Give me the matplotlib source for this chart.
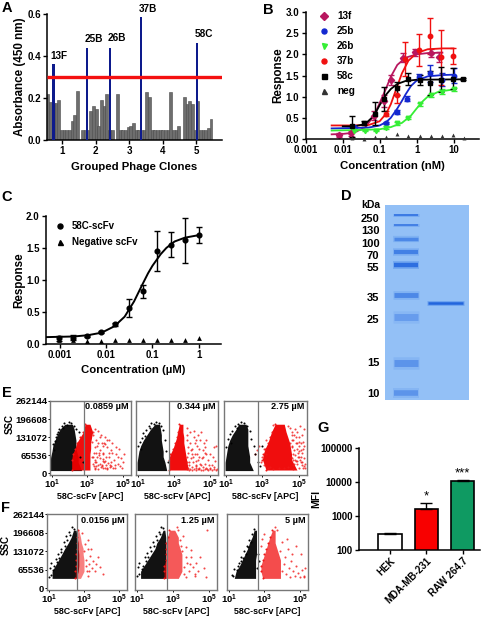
import numpy as np
import matplotlib
matplotlib.use('Agg')
import matplotlib.pyplot as plt
from matplotlib.lines import Line2D

plt.rcParams['font.family'] = ['Liberation Sans', 'DejaVu Sans']
plt.rcParams['font.weight'] = 'bold'
plt.rcParams['axes.labelweight'] = 'bold'
plt.rcParams['mathtext.fontset'] = 'custom'
plt.rcParams['mathtext.bf'] = 'Liberation Sans:bold'
plt.rcParams['mathtext.rm'] = 'Liberation Sans:bold'

W, H = 482, 621

# A - phage clones
clone_values = [.22, .18, .175, .175, .19, .05, .05, .05, .05, .09, .12, .235, 0, .05, .05, .05,
                .14, .16, .15, .065, .19, .16, .22, .05, .05, 0, .22, .05, .05, .05, .06, .065,
                .08, .05, .05, .05, .05, .23, .205, .05, .05, .05, .05, .05, .05, .05, .23, .05,
                .05, .065, 0, .205, .17, .185, .17, .05, .185, .05, .05, .05, .055, .1]
hit_names = ['13F', '25B', '26B', '37B', '58C']
hit_pos = [0.73, 1.73, 2.43, 3.36, 5.04]
hit_values = [0.36, 0.44, 0.44, 0.585, 0.46]
hit_label_x = [0.91, 1.93, 2.62, 3.56, 5.23]
hit_label_y = [0.40, 0.48, 0.485, 0.625, 0.503]
cutoff = 0.3

# B - binding curves, curve points
b_names = ['13f', '25b', '26b', '37b', '58c', 'neg']
b_colors = ['#b8175f', '#1428d0', '#35ee35', '#f01010', '#000000', '#333333']
b_markers = ['D', 'o', 'v', 'o', 's', '^']
c13_x = [.005, .01, .02, .04, .07, .1, .15, .2, .3, .5, 1, 2, 5]
c13_y = [.11, .12, .15, .27, .55, .85, 1.2, 1.47, 1.75, 1.92, 2.0, 2.03, 2.04]
c25_x = [.005, .02, .05, .1, .15, .2, .3, .4, .5, .7, 1, 2, 5, 10]
c25_y = [.25, .26, .27, .32, .4, .5, .72, .9, 1.05, 1.25, 1.38, 1.48, 1.51, 1.52]
c26_x = [.005, .02, .05, .1, .2, .4, .7, 1, 1.5, 2, 4, 10]
c26_y = [.2, .21, .22, .23, .28, .38, .55, .72, .9, 1.0, 1.12, 1.17]
c37_x = [.005, .02, .05, .1, .15, .2, .3, .4, .6, 1, 2, 5, 10]
c37_y = [.32, .32, .33, .42, .6, .82, 1.25, 1.55, 1.85, 2.03, 2.12, 2.14, 2.14]
c58_x = [.01, .02, .04, .07, .1, .15, .2, .3, .5, 1, 20]
c58_y = [.3, .3, .35, .55, .8, 1.05, 1.18, 1.3, 1.37, 1.4, 1.41]
p13_x = [.0077, .017, .07, .13, .2, .42, .9, 2.4, 4]
p13_y = [.09, .13, .55, .9, 1.4, 1.92, 2.05, 2.03, 1.93]
p13_e = [.04, .05, .1, .15, .12, .1, .08, .1, .12]
p25_x = [.02, .15, .3, .55, 1.15, 2.3, 5, 10]
p25_y = [.28, .38, .63, .95, 1.46, 1.55, 1.4, 1.5]
p25_e = [.03, .03, .05, .06, .07, .2, .15, .18]
p26_x = [.02, .04, .08, .15, .3, .6, 1.2, 2.4, 4.8, 10]
p26_y = [.2, .2, .2, .27, .37, .5, .82, 1.03, 1.12, 1.17]
p26_e = [.02, .02, .02, .03, .03, .03, .03, .04, .05, .04]
p37_x = [.15, .3, .5, 1.15, 2.3, 4.6, 9.5]
p37_y = [.6, 1.05, 1.9, 2.1, 2.43, 1.93, 1.96]
p37_e = [.05, .2, .4, .38, .42, .65, .2]
p58_x = [.018, .037, .075, .13, .29, .6, 1.2, 2.3, 4.6, 9.5, 18]
p58_y = [.3, .38, .6, .95, 1.2, 1.42, 1.4, 1.33, 1.4, 1.42, 1.42]
p58_e = [.25, .05, .27, .28, .15, .15, .12, .28, .3, .25, .02]
pneg_x = [.018, .037, .075, .15, .3, .6, 1.2, 2.4, 4.8, 9.6, 19]
pneg_y = [.02, .01, .05, .04, .12, .06, .08, .08, .06, .1, .02]

# C
c_conc = [1, .5, .25, .125, .0625, .03125, .0156, .0078, .0039, .00195, .00098]
c_resp = [1.7, 1.62, 1.55, 1.45, .82, .56, .30, .18, .12, .09, .08]
c_err = [.13, .35, .2, .32, .1, .14, .02, .02, .02, .04, .04]
c_neg = [.09, .05, .05, .05, .05, .06, .05, .04, .04, .05, .05]
cfit_x = [.0005, .001, .002, .004, .008, .015, .025, .04, .06, .08, .1, .15, .2, .3, .5, 1]
cfit_y = [.1, .105, .11, .13, .17, .27, .42, .66, .92, 1.1, 1.22, 1.4, 1.5, 1.6, 1.66, 1.7]

# D - gel
ladder_labels = ['250', '130', '100', '70', '55', '35', '25', '15', '10']
ladder_label_y = [13, 25, 38, 50, 62, 92, 114, 157, 188]
ladder_band_y = [10, 20, 34, 47, 60, 90, 112, 158, 188]
ladder_band_w = [1.2, 1.2, 2.5, 3, 3.2, 3.5, 5, 5, 4]
ladder_band_a = [.9, .8, .6, .7, .95, .6, .35, .45, .45]

# E and F - flow cytometry, cloud width per SSC level (log10 APC), dots read by eye
ssc_ticks = [0, 65.536, 131.072, 196.608, 262.144]
ssc_labels = ['0', '65536', '131072', '196608', '262144']
e_rows_black = [10, 40, 60, 80, 100, 120, 140, 160, 178]
e_rows_red = [12, 50, 70, 90, 110, 130, 150, 178]
f_rows = [35, 60, 80, 100, 120, 140, 160, 180, 205]

e1_black_l = [.89, .89, .93, 1.0, 1.05, 1.17, 1.3, 1.45, 1.73]
e1_black_r = [2.67, 2.48, 2.48, 2.39, 2.35, 2.35, 2.3, 2.25, 2.15]
e1_red_l = [2.11, 2.11, 2.16, 2.3, 2.39, 2.58, 2.77, 2.86]
e1_red_r = [3.14, 3.14, 3.14, 3.18, 3.18, 3.23, 3.29, 3.14]
e1_dots_x = [3.3, 3.4, 3.5, 3.55, 3.6, 3.7, 3.8, 3.85, 3.9, 4.0, 4.05, 4.1, 4.2, 4.3, 4.35, 4.4, 4.5, 4.6, 4.7, 4.8,
             4.9, 3.35, 3.45, 3.6, 3.75, 3.9, 4.1, 4.25, 4.45, 3.3, 3.5, 3.7, 4.0, 4.3, 4.6, 3.4, 3.65, 3.95, 4.2, 4.55,
             3.25, 3.3, 3.35, 3.4, 3.45, 3.5, 3.55, 3.6, 3.65, 3.7, 3.75, 3.8, 3.85, 3.9, 3.95, 4.0, 4.05, 4.1, 4.15, 4.2,
             3.25, 3.3, 3.4, 3.5, 3.6, 3.7, 3.8, 3.9, 4.0, 4.1, 4.25, 4.4, 4.55, 4.7, 4.85, 5.0, 4.95, 5.05]
e1_dots_y = [140, 95, 120, 60, 155, 85, 110, 45, 70, 130, 30, 95, 60, 85, 25, 110, 50, 70, 35, 90,
             55, 25, 20, 30, 22, 18, 20, 24, 18, 60, 40, 130, 105, 40, 95, 160, 75, 40, 120, 30,
             115, 35, 75, 15, 50, 28, 100, 14, 65, 35, 140, 28, 75, 52, 110, 18, 60, 120, 38, 75,
             60, 150, 42, 75, 110, 55, 30, 100, 45, 15, 32, 75, 20, 58, 28, 40, 18, 70]
e1_black_dx = [1.35, 1.25, 1.15, 1.42, 1.55, 1.7, 1.6, 1.85, 1.95, 2.1, 2.25, 2.35, 2.5, 2.6, 2.72, 1.05, 1.12, 1.3]
e1_black_dy = [150, 132, 118, 160, 172, 182, 165, 176, 186, 183, 172, 160, 150, 60, 40, 105, 85, 142]

e2_black_l = [.95, .95, 1.0, 1.05, 1.15, 1.3, 1.5, 1.7, 1.95]
e2_black_r = [2.6, 2.5, 2.4, 2.4, 2.35, 2.3, 2.3, 2.25, 2.2]
e2_red_l = [2.7, 2.7, 2.8, 2.95, 3.05, 3.15, 3.2, 3.3]
e2_red_r = [3.8, 3.7, 3.65, 3.6, 3.55, 3.55, 3.5, 3.5]
e2_dots_x = [3.7, 3.8, 3.9, 4.0, 4.1, 4.2, 4.3, 4.4, 4.5, 4.6, 4.7, 4.8, 4.9, 5.0, 5.1, 5.2, 5.3, 3.75, 3.95, 4.15, 4.35,
             4.55, 4.75, 4.95, 5.15, 5.35, 3.85, 4.05, 4.25, 4.45, 4.65, 3.8, 4.0, 4.2, 4.4, 4.6, 4.8, 5.0, 5.2, 3.7,
             3.7, 3.75, 3.8, 3.85, 3.9, 3.95, 4.0, 4.05, 4.1, 4.15, 4.2, 4.25, 4.3, 4.35, 4.4, 4.45, 4.5, 4.6, 4.7, 4.8,
             3.72, 3.82, 3.92, 4.02, 4.12, 4.22, 4.32, 4.42, 4.52, 4.62, 4.72, 4.82, 4.92, 5.02, 5.12, 5.22, 5.32, 5.38]
e2_dots_y = [120, 95, 150, 70, 130, 45, 100, 60, 150, 85, 35, 120, 50, 70, 30, 95, 45, 165, 85, 110, 140,
             55, 75, 30, 60, 100, 40, 60, 25, 35, 110, 20, 22, 18, 20, 24, 18, 20, 22, 60,
             40, 140, 75, 30, 110, 55, 90, 40, 155, 70, 120, 30, 70, 50, 90, 120, 30, 60, 95, 70,
             14, 12, 16, 13, 15, 12, 14, 16, 13, 12, 15, 14, 12, 16, 13, 15, 12, 14]
e2_black_dx = [1.3, 1.2, 1.1, 1.45, 1.6, 1.75, 1.65, 1.9, 2.0, 2.15, 2.3, 2.4, 2.5, 2.55, 2.65, 1.0, 1.15, 1.4]
e2_black_dy = [145, 128, 112, 158, 170, 182, 165, 178, 187, 183, 172, 158, 120, 80, 40, 100, 88, 135]

e3_black_l = [.95, .95, 1.0, 1.05, 1.1, 1.2, 1.35, 1.55, 1.7]
e3_black_r = [2.5, 2.3, 2.3, 2.25, 2.2, 2.2, 2.2, 2.2, 2.1]
e3_red_l = [3.2, 3.0, 3.05, 3.15, 3.3, 3.4, 3.5, 3.7]
e3_red_r = [4.9, 4.6, 4.6, 4.55, 4.5, 4.4, 4.3, 4.2]
e3_dots_x = [4.6, 4.7, 4.8, 4.9, 5.0, 5.1, 5.2, 5.3, 5.0, 5.2, 4.8, 5.1, 5.3, 4.7, 4.9, 5.2, 3.3, 3.4, 3.6, 3.9,
             4.2, 4.4, 4.7, 5.0, 5.25, 2.7, 2.6, 2.8, 4.5, 4.6, 4.9, 5.1, 5.3, 3.2, 3.1, 3.6, 4.4, 4.7, 5.0, 5.3,
             4.65, 4.75, 4.85, 4.95, 5.05, 5.15, 5.25, 5.35, 4.62, 4.72, 4.82, 4.92, 5.02, 5.12, 5.22, 5.32, 2.9, 3.0, 3.1, 3.2,
             4.5, 4.55, 4.6, 4.65, 4.7, 4.75, 4.8, 4.85, 4.9, 4.95, 5.0, 5.05]
e3_dots_y = [150, 120, 160, 90, 130, 110, 75, 160, 60, 140, 50, 40, 100, 70, 110, 30, 18, 22, 16, 20,
             18, 22, 16, 20, 18, 85, 70, 100, 165, 140, 35, 85, 55, 120, 90, 175, 170, 30, 80, 25,
             100, 35, 130, 60, 170, 40, 115, 35, 55, 85, 110, 45, 100, 60, 90, 20, 40, 60, 30, 70,
             110, 60, 95, 120, 50, 140, 65, 45, 150, 75, 115, 50]
e3_black_dx = [1.2, 1.1, 1.35, 1.5, 1.65, 1.6, 1.85, 2.0, 2.15, 2.3, 2.4, 2.55, 2.6, 2.75, 2.85, 3.0, 1.0, 1.25]
e3_black_dy = [142, 125, 155, 170, 180, 165, 187, 182, 172, 155, 125, 100, 70, 40, 25, 100, 95, 110]

f1_black_l = [1.18, 1.18, 1.36, 1.55, 1.73, 1.9, 2.1, 2.27, 2.4]
f1_black_r = [2.55, 2.67, 2.7, 2.7, 2.7, 2.67, 2.67, 2.6, 2.55]
f1_red_l = [2.5, 2.5, 2.55, 2.55, 2.55, 2.6, 2.6, 2.6, 2.65]
f1_red_r = [2.8, 3.0, 3.0, 3.0, 2.95, 2.95, 2.85, 2.8, 2.7]
f1_dots_x = [3.0, 3.1, 3.15, 3.2, 3.3, 3.35, 3.45, 3.5, 3.6, 3.7, 3.8, 3.9, 4.1, 3.05, 3.25, 3.4, 3.1, 3.2, 2.9, 3.3]
f1_dots_y = [130, 100, 60, 140, 85, 115, 70, 95, 60, 85, 110, 75, 50, 155, 45, 140, 80, 170, 195, 60]
f1_black_dx = [1.0, 1.1, 1.05, 1.25, 1.4, 1.3, 1.5, 1.45, 1.7, 1.55, 1.85, 1.7, 2.0, 1.9, 2.15, 2.05, 2.3, 2.2, 2.45, 1.12]
f1_black_dy = [40, 48, 72, 65, 105, 78, 120, 92, 140, 108, 165, 128, 185, 148, 200, 170, 215, 188, 210, 88]

f2_black_l = [1.2, 1.2, 1.4, 1.6, 1.8, 2.0, 2.1, 2.3, 2.45]
f2_black_r = [2.6, 2.6, 2.6, 2.6, 2.6, 2.6, 2.6, 2.6, 2.55]
f2_red_l = [2.5, 2.5, 2.5, 2.6, 2.6, 2.6, 2.6, 2.7, 2.8]
f2_red_r = [3.3, 3.5, 3.5, 3.5, 3.5, 3.4, 3.3, 3.3, 3.1]
f2_dots_x = [3.5, 3.6, 3.7, 3.8, 3.9, 4.0, 4.1, 4.2, 4.3, 4.4, 4.5, 4.7, 4.9, 3.6, 3.75, 4.0, 4.25, 3.4, 3.55, 4.85,
             3.3, 3.2, 3.45, 3.7, 3.95]
f2_dots_y = [130, 75, 145, 90, 60, 110, 75, 45, 90, 60, 110, 70, 205, 50, 110, 135, 50, 170, 185, 40,
             205, 215, 150, 40, 85]
f2_black_dx = [1.0, 1.12, 1.05, 1.3, 1.45, 1.32, 1.55, 1.48, 1.75, 1.6, 1.9, 1.78, 2.05, 1.95, 2.2, 2.12, 2.35, 2.28, 2.45, 1.1]
f2_black_dy = [42, 50, 75, 68, 110, 80, 125, 95, 145, 112, 165, 132, 185, 150, 200, 172, 215, 190, 212, 90]

f3_black_l = [1.3, 1.4, 1.6, 1.75, 1.9, 2.05, 2.15, 2.3, 2.42]
f3_black_r = [2.5, 2.5, 2.5, 2.5, 2.55, 2.55, 2.55, 2.55, 2.55]
f3_red_l = [2.9, 2.8, 2.8, 2.9, 3.0, 3.1, 3.2, 3.3, 3.45]
f3_red_r = [3.9, 3.9, 3.9, 3.9, 3.8, 3.7, 3.6, 3.6, 3.6]
f3_dots_x = [3.9, 4.0, 4.1, 4.15, 4.2, 4.3, 4.4, 4.45, 4.5, 4.6, 4.7, 4.8, 4.9, 5.0, 5.1, 5.2, 5.3, 4.0, 4.25, 4.55,
             4.75, 5.05, 5.25, 2.8, 2.85, 3.0, 3.6, 3.7]
f3_dots_y = [130, 60, 85, 110, 50, 140, 70, 40, 95, 60, 45, 80, 55, 40, 65, 45, 70, 165, 175, 120,
             150, 120, 40, 150, 175, 190, 215, 205]
f3_black_dx = [1.15, 1.25, 1.3, 1.45, 1.55, 1.5, 1.7, 1.65, 1.85, 1.8, 2.0, 1.95, 2.15, 2.1, 2.28, 2.25, 2.4, 2.6, 2.65, 2.7]
f3_black_dy = [48, 42, 68, 65, 88, 78, 112, 95, 132, 108, 150, 122, 172, 145, 192, 165, 210, 70, 120, 95]

e_concs = ['0.0859 µM', '0.344 µM', '2.75 µM']
f_concs = ['0.0156 µM', '1.25 µM', '5 µM']
e_gates = [2.82, 2.75, 2.78]
f_gates = [2.6, 2.67, 2.63]
f_red_alpha = [.5, .65, .7]

# G
g_names = ['HEK', 'MDA-MB-231', 'RAW 264.7']
g_values = [290, 1600, 10300]
g_err = [25, 750, 700]
g_colors = ['white', '#f80000', '#0f9a62']
g_stars = ['', '*', '***']


def px_axes(fig, left, top, right, bottom):
    return fig.add_axes([left / W, 1 - bottom / H, (right - left) / W, (bottom - top) / H])


def style(ax, size=7):
    ax.spines['top'].set_visible(False)
    ax.spines['right'].set_visible(False)
    ax.spines['left'].set_linewidth(1.1)
    ax.spines['bottom'].set_linewidth(1.1)
    ax.tick_params(labelsize=size, width=1, length=3, pad=1.5)


def flow(ax, rows_b, bl, br, rows_r, rl, rr, dots, black_dots, gate, conc, red_alpha, showy, label_pos):
    ax.fill_betweenx(rows_b, bl, br, color='black', lw=0, alpha=.93)
    ax.fill_betweenx(rows_r, rl, rr, color='#f00000', lw=0, alpha=red_alpha)
    ax.scatter(dots[0], dots[1], s=2.2, color='#f01818', lw=0, alpha=.8)
    ax.scatter(rl, rows_r, s=2.2, color='#f01818', lw=0)
    ax.scatter(black_dots[0], black_dots[1], s=2.2, color='black', lw=0)
    ax.axvline(gate, color='#777777', lw=.9)
    ax.set_xlim(.89, 5.45)
    ax.set_ylim(-6, 262.144)
    ax.set_xticks([1, 3, 5], [r'$\mathbf{10^{1}}$', r'$\mathbf{10^{3}}$', r'$\mathbf{10^{5}}$'])
    ax.set_yticks(ssc_ticks, ssc_labels if showy else [])
    ax.tick_params(labelsize=6.8, length=1.5, width=.7, pad=0.5, left=showy, labelleft=showy)
    ax.set_xlabel('58C-scFv [APC]', fontsize=6.4, labelpad=1)
    for s in ax.spines.values():
        s.set_color('#777777')
        s.set_linewidth(1.0)
    ax.text(.97, .92, conc, transform=ax.transAxes, ha='right', va='center', fontsize=6.6)
    if showy:
        ax.set_ylabel('SSC', fontsize=7)
        ax.yaxis.set_label_coords(label_pos[0], label_pos[1])


fig = plt.figure(figsize=(W / 100, H / 100), dpi=100)

# A
ax = px_axes(fig, 47, 14, 222, 140)
clone_x = 0.57 + 0.08 * np.arange(len(clone_values))
ax.bar(clone_x, clone_values, width=.085, color='#6e6e6e', edgecolor='#4a4a4a', lw=.4)
ax.bar(hit_pos, hit_values, width=.07, color='#0d1a8c', zorder=3)
ax.plot([.54, 5.78], [cutoff, cutoff], color='#f41010', lw=2.4, zorder=4, solid_capstyle='butt')
for n, x, y in zip(hit_names, hit_label_x, hit_label_y):
    ax.text(x, y, n, ha='center', va='center', fontsize=7.2, clip_on=False)
ax.set_xlim(.54, 5.78)
ax.set_ylim(0, .6)
ax.set_xticks([1, 2, 3, 4, 5])
ax.set_yticks([0, .2, .4, .6], ['0.0', '0.2', '0.4', '0.6'])
ax.set_xlabel('Grouped Phage Clones', fontsize=8.2, labelpad=4)
ax.set_ylabel('Absorbance (450 nm)', fontsize=8.4, labelpad=.5)
style(ax)

# B
ax = px_axes(fig, 305.5, 12, 479, 139)
curves = [(c13_x, c13_y), (c25_x, c25_y), (c26_x, c26_y), (c37_x, c37_y), (c58_x, c58_y)]
points = [(p13_x, p13_y, p13_e), (p25_x, p25_y, p25_e), (p26_x, p26_y, p26_e),
          (p37_x, p37_y, p37_e), (p58_x, p58_y, p58_e)]
for i in range(5):
    ax.plot(curves[i][0], curves[i][1], color=b_colors[i], lw=1.3)
    ax.errorbar(points[i][0], points[i][1], yerr=points[i][2], fmt=b_markers[i], color=b_colors[i],
                ms=3.2, lw=1, capsize=2.2, capthick=1)
ax.scatter(pneg_x, pneg_y, marker='^', s=8, color=b_colors[5], lw=0, zorder=3, clip_on=False)
ax.set_xscale('log')
ax.set_xlim(.00098, 10 ** 1.69)
ax.set_ylim(0, 3)
ax.set_xticks([.001, .01, .1, 1, 10], ['0.001', '0.01', '0.1', '1', '10'])
ax.minorticks_off()
ax.set_yticks([0, .5, 1, 1.5, 2, 2.5, 3], ['0.0', '0.5', '1.0', '1.5', '2.0', '2.5', '3.0'])
ax.set_xlabel('Concentration (nM)', fontsize=8.2, labelpad=4)
ax.set_ylabel('Response', fontsize=8.4, labelpad=1)
style(ax)
handles = [Line2D([], [], ls='', marker=m, color=c, ms=3.6) for m, c in zip(b_markers, b_colors)]
ax.legend(handles, b_names, loc='upper left', bbox_to_anchor=(.08, 1.005), frameon=False, fontsize=7.2,
          labelspacing=.5, handlelength=1, handletextpad=.75, borderpad=0, borderaxespad=0)

# C
ax = px_axes(fig, 46, 216, 221, 343.5)
ax.plot(cfit_x, cfit_y, color='black', lw=1.4)
ax.errorbar(c_conc, c_resp, yerr=c_err, fmt='o', color='black', ms=3.4, lw=1, capsize=2.5, capthick=1)
ax.scatter(c_conc, c_neg, marker='^', s=12, color='black', lw=0, zorder=3)
ax.set_xscale('log')
ax.set_xlim(10 ** -3.3, 10 ** .48)
ax.set_ylim(0, 2)
ax.set_xticks([.001, .01, .1, 1], ['0.001', '0.01', '0.1', '1'])
ax.minorticks_off()
ax.set_yticks([0, .5, 1, 1.5, 2], ['0.0', '0.5', '1.0', '1.5', '2.0'])
ax.set_xlabel('Concentration (µM)', fontsize=8.2, labelpad=4)
ax.set_ylabel('Response', fontsize=8.4, labelpad=.5)
style(ax)
handles = [Line2D([], [], ls='', marker='o', color='black', ms=3.6),
           Line2D([], [], ls='', marker='^', color='black', ms=3.6)]
ax.legend(handles, ['58C-scFv', 'Negative scFv'], loc='upper left', bbox_to_anchor=(.05, .96), frameon=False,
          fontsize=7, labelspacing=.6, handlelength=1, handletextpad=.75, borderpad=0, borderaxespad=0)

# D
ax = px_axes(fig, 385, 205, 469, 400)
ax.set_facecolor('#93c0f6')
for y, w, a in zip(ladder_band_y, ladder_band_w, ladder_band_a):
    ax.hlines(y, 8, 34, color='#2f74e4', lw=w * 1.8, alpha=a * .3)
    ax.hlines(y, 9, 33, color='#2a6ce0', lw=w, alpha=a)
ax.hlines(98, 42, 79, color='#2f74e4', lw=3.4, alpha=.4)
ax.hlines(98, 43, 78, color='#1f62dc', lw=1.8, alpha=.95)
ax.set_xlim(0, 84)
ax.set_ylim(195, 0)
ax.set_xticks([])
ax.set_yticks(ladder_label_y, ladder_labels)
ax.tick_params(length=0, labelsize=8, pad=4)
for s in ax.spines.values():
    s.set_visible(False)
fig.text(380 / W, 1 - 205 / H, 'kDa', ha='right', va='center', fontsize=7.5)

# E
e_boxes = [(50, 131), (136, 218), (224, 307)]
e_data = [(e1_black_l, e1_black_r, e1_red_l, e1_red_r, (e1_dots_x, e1_dots_y), (e1_black_dx, e1_black_dy)),
          (e2_black_l, e2_black_r, e2_red_l, e2_red_r, (e2_dots_x, e2_dots_y), (e2_black_dx, e2_black_dy)),
          (e3_black_l, e3_black_r, e3_red_l, e3_red_r, (e3_dots_x, e3_dots_y), (e3_black_dx, e3_black_dy))]
for i in range(3):
    ax = px_axes(fig, e_boxes[i][0], 401, e_boxes[i][1], 475)
    d = e_data[i]
    flow(ax, e_rows_black, d[0], d[1], e_rows_red, d[2], d[3], d[4], d[5], e_gates[i], e_concs[i], .95, i == 0,
         (-.44, .69))

# F
f_boxes = [(47, 127), (135, 217), (227, 308)]
f_data = [(f1_black_l, f1_black_r, f1_red_l, f1_red_r, (f1_dots_x, f1_dots_y), (f1_black_dx, f1_black_dy)),
          (f2_black_l, f2_black_r, f2_red_l, f2_red_r, (f2_dots_x, f2_dots_y), (f2_black_dx, f2_black_dy)),
          (f3_black_l, f3_black_r, f3_red_l, f3_red_r, (f3_dots_x, f3_dots_y), (f3_black_dx, f3_black_dy))]
for i in range(3):
    ax = px_axes(fig, f_boxes[i][0], 514, f_boxes[i][1], 590)
    d = f_data[i]
    flow(ax, f_rows, d[0], d[1], f_rows, d[2], d[3], d[4], d[5], f_gates[i], f_concs[i], f_red_alpha[i], i == 0,
         (-.45, .59))

# G
ax = px_axes(fig, 359, 447.7, 480, 550)
ax.bar(range(3), g_values, yerr=[[0, 0, 0], g_err], width=.64, color=g_colors, edgecolor='black', lw=1.2,
       error_kw=dict(ecolor='black', lw=1, capsize=4, capthick=1))
ax.set_yscale('log')
ax.set_ylim(100, 100000)
ax.set_xlim(-.854, 2.48)
for i, s in enumerate(g_stars):
    if s:
        ax.text(i, (g_values[i] + g_err[i]) * 1.05, s, ha='center', va='bottom', fontsize=9.5, fontweight='normal')
ax.set_xticks(range(3))
ax.set_xticklabels(g_names, rotation=45, ha='right', rotation_mode='anchor')
ax.set_yticks([100, 1000, 10000, 100000], ['100', '1000', '10000', '100000'])
ax.minorticks_off()
ax.set_ylabel('MFI', fontsize=7.5)
ax.yaxis.set_label_coords(-.314, .5)
style(ax, 7)

for letter, x, y in [('A', 7, 8), ('B', 268, 10), ('C', 7, 197), ('D', 346, 196),
                     ('E', 7, 393), ('F', 6, 508), ('G', 323, 428)]:
    fig.text(x / W, 1 - y / H, letter, ha='center', va='center', fontsize=10.5)

fig.savefig('out.png', dpi=100)
